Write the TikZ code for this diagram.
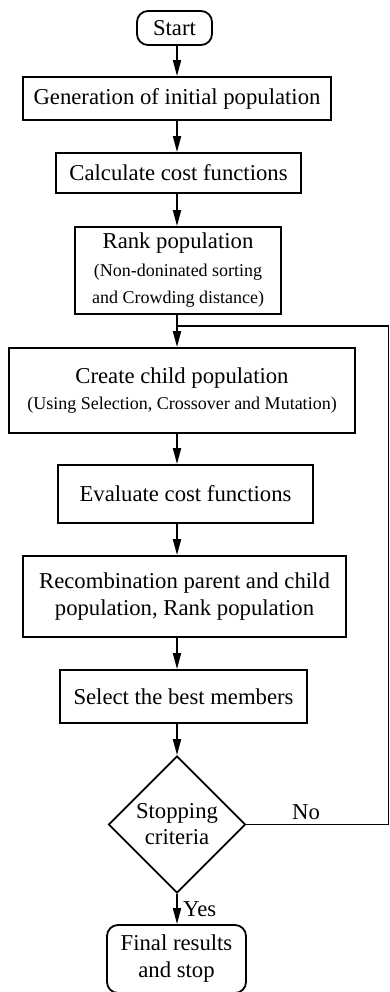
\documentclass[tikz,border=0pt]{standalone}
\usepackage{fontspec}
\setmainfont{Liberation Serif}
\usepackage{tikz}
\usetikzlibrary{positioning, arrows.meta, shapes.geometric, calc}

\newcommand{\subsize}{\fontsize{18}{20.5}\selectfont}

\begin{document}
\begin{tikzpicture}[x=1pt, y=1pt,
    % boxes of the flow chart
    block/.style={draw, rectangle, line width=1.8pt, align=center,
                  font=\fontsize{22.7}{27}\selectfont, inner sep=0pt},
    term/.style={block, rounded corners=11pt},
    decision/.style={draw, diamond, aspect=1, line width=1.8pt, align=center,
                     font=\fontsize{22.7}{26}\selectfont, inner sep=0pt,
                     minimum width=137pt, minimum height=137pt},
    arrow/.style={line width=1.8pt, -{Triangle[length=16pt, width=8pt]}},
    line/.style={line width=1.8pt},
    lbl/.style={font=\fontsize{22.7}{27}\selectfont}
]
\useasboundingbox (0,0) rectangle (390,-992);

% main axis of the chart
\coordinate (axis) at (177,0);

% Start
\node[term, minimum width=75pt, minimum height=34pt] (start) at (174.5,-28) {Start};

% steps
\node[block, minimum width=308pt, minimum height=43pt] (gen) at (177,-98.5)
  {Generation of initial population};
\node[block, minimum width=245pt, minimum height=40pt] (calc) at (178.5,-173)
  {Calculate cost functions};
\node[block, minimum width=206pt, minimum height=87pt] (rank) at (178,-270.5)
  {Rank population\\[1pt]
   {\subsize (Non-doninated sorting}\\
   {\subsize and Crowding distance)}};
\node[block, minimum width=346pt, minimum height=85pt] (create) at (182,-390.5)
  {Create child population\\[-1pt]
   {\subsize (Using Selection, Crossover and Mutation)}};
\node[block, minimum width=255pt, minimum height=58pt] (eval) at (185.5,-494)
  {Evaluate cost functions};
\node[block, minimum width=323pt, minimum height=81pt] (recomb) at (184.5,-596.5)
  {Recombination parent and child\\population, Rank population};
\node[block, minimum width=247pt, minimum height=53pt] (select) at (183.5,-696.5)
  {Select the best members};

% decision and end
\node[decision] (stop) at (177,-824.5) {Stopping\\criteria};
\node[term, minimum width=139pt, minimum height=68pt] (final) at (176.5,-959)
  {Final results\\and stop};

% loop points
\coordinate (join) at (177,-326);
\coordinate (back) at (388.5,-326);

% arrows down the axis
\draw[arrow] (axis |- start.south) -- (axis |- gen.north);
\draw[arrow] (axis |- gen.south) -- (axis |- calc.north);
\draw[arrow] (axis |- calc.south) -- (axis |- rank.north);
\draw[arrow] (axis |- rank.south) -- (axis |- create.north);
\draw[arrow] (axis |- create.south) -- (axis |- eval.north);
\draw[arrow] (axis |- eval.south) -- (axis |- recomb.north);
\draw[arrow] (axis |- recomb.south) -- (axis |- select.north);
\draw[arrow] (axis |- select.south) -- (stop.north);
\draw[arrow] (stop.south) -- (axis |- final.north) node[midway, right=2pt, lbl] {Yes};

% loop back
\draw[line] (stop.east) -- (back |- stop.east) node[pos=0.42, above=1pt, lbl] {No}
  -- (back) -- (join);

\end{tikzpicture}
\end{document}
